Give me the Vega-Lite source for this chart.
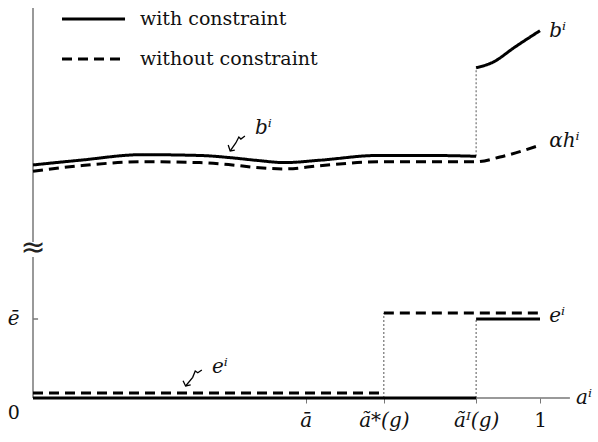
{
  "$schema": "https://vega.github.io/schema/vega-lite/v6.json",
  "width": 565,
  "height": 398,
  "padding": {"left": 33, "top": 0, "right": 0, "bottom": 44},
  "autosize": {"type": "none"},
  "config": {"view": {"stroke": null}, "font": "DejaVu Serif"},
  "datasets": {
    "curves": [
      {"a": 0, "v": 2.95, "series": "with", "seg": "b1"},
      {"a": 0.093, "v": 3.01, "series": "with", "seg": "b1"},
      {"a": 0.215, "v": 3.08, "series": "with", "seg": "b1"},
      {"a": 0.329, "v": 3.07, "series": "with", "seg": "b1"},
      {"a": 0.393, "v": 3.04, "series": "with", "seg": "b1"},
      {"a": 0.438, "v": 3.01, "series": "with", "seg": "b1"},
      {"a": 0.497, "v": 2.98, "series": "with", "seg": "b1"},
      {"a": 0.566, "v": 3.01, "series": "with", "seg": "b1"},
      {"a": 0.68, "v": 3.07, "series": "with", "seg": "b1"},
      {"a": 0.783, "v": 3.07, "series": "with", "seg": "b1"},
      {"a": 0.874, "v": 3.06, "series": "with", "seg": "b1"},
      {"a": 0.874, "v": 4.18, "series": "with", "seg": "b2"},
      {"a": 0.907, "v": 4.25, "series": "with", "seg": "b2"},
      {"a": 0.95, "v": 4.44, "series": "with", "seg": "b2"},
      {"a": 1.0, "v": 4.65, "series": "with", "seg": "b2"},
      {"a": 0, "v": 2.87, "series": "without", "seg": "h"},
      {"a": 0.093, "v": 2.94, "series": "without", "seg": "h"},
      {"a": 0.215, "v": 2.99, "series": "without", "seg": "h"},
      {"a": 0.329, "v": 2.98, "series": "without", "seg": "h"},
      {"a": 0.393, "v": 2.95, "series": "without", "seg": "h"},
      {"a": 0.438, "v": 2.92, "series": "without", "seg": "h"},
      {"a": 0.497, "v": 2.9, "series": "without", "seg": "h"},
      {"a": 0.566, "v": 2.94, "series": "without", "seg": "h"},
      {"a": 0.68, "v": 2.99, "series": "without", "seg": "h"},
      {"a": 0.783, "v": 2.99, "series": "without", "seg": "h"},
      {"a": 0.874, "v": 2.99, "series": "without", "seg": "h"},
      {"a": 0.921, "v": 3.05, "series": "without", "seg": "h"},
      {"a": 1.0, "v": 3.2, "series": "without", "seg": "h"},
      {"a": 0, "v": 0, "series": "with", "seg": "e1"},
      {"a": 0.874, "v": 0, "series": "with", "seg": "e1"},
      {"a": 0.874, "v": 1.0, "series": "with", "seg": "e2"},
      {"a": 1.0, "v": 1.0, "series": "with", "seg": "e2"},
      {"a": 0, "v": 0.063, "series": "without", "seg": "e3"},
      {"a": 0.692, "v": 0.063, "series": "without", "seg": "e3"},
      {"a": 0.692, "v": 1.076, "series": "without", "seg": "e4"},
      {"a": 1.0, "v": 1.076, "series": "without", "seg": "e4"}
    ],
    "legend": [
      {"a1": 0.0572, "a2": 0.1815, "v": 4.797, "series": "with", "label": "with constraint"},
      {"a1": 0.0572, "a2": 0.1815, "v": 4.291, "series": "without", "label": "without constraint"}
    ],
    "drops": [
      {"a": 0.874, "v1": 3.06, "v2": 4.18},
      {"a": 0.692, "v1": 0, "v2": 1.076},
      {"a": 0.874, "v1": 0, "v2": 1.0}
    ],
    "axislines": [
      {"a1": 0, "a2": 1.059, "v1": 0, "v2": 0},
      {"a1": 0, "a2": 0, "v1": 0, "v2": 1.785},
      {"a1": 0, "a2": 0, "v1": 1.975, "v2": 4.937},
      {"a1": 0, "a2": 0.01, "v1": 1.0, "v2": 1.0}
    ],
    "arrows": [
      {"id": "b", "i": 0, "a": 0.418, "v": 3.316},
      {"id": "b", "i": 1, "a": 0.41, "v": 3.278},
      {"id": "b", "i": 2, "a": 0.406, "v": 3.304},
      {"id": "b", "i": 3, "a": 0.4, "v": 3.228},
      {"id": "b", "i": 4, "a": 0.389, "v": 3.127},
      {"id": "bh", "i": 0, "a": 0.385, "v": 3.203},
      {"id": "bh", "i": 1, "a": 0.389, "v": 3.127},
      {"id": "bh", "i": 2, "a": 0.398, "v": 3.139},
      {"id": "e", "i": 0, "a": 0.333, "v": 0.354},
      {"id": "e", "i": 1, "a": 0.325, "v": 0.32},
      {"id": "e", "i": 2, "a": 0.32, "v": 0.342},
      {"id": "e", "i": 3, "a": 0.315, "v": 0.262},
      {"id": "e", "i": 4, "a": 0.301, "v": 0.152},
      {"id": "eh", "i": 0, "a": 0.296, "v": 0.219},
      {"id": "eh", "i": 1, "a": 0.301, "v": 0.152},
      {"id": "eh", "i": 2, "a": 0.311, "v": 0.165}
    ],
    "mathlabels": [
      {"a": 1.018, "v": 4.65, "text": "bⁱ"},
      {"a": 1.018, "v": 3.25, "text": "αhⁱ"},
      {"a": 1.018, "v": 1.04, "text": "eⁱ"},
      {"a": 0.438, "v": 3.42, "text": "bⁱ"},
      {"a": 0.353, "v": 0.39, "text": "eⁱ"},
      {"a": 1.071, "v": 0, "text": "aⁱ"}
    ],
    "ylabels": [
      {"a": -0.038, "v": 1.0, "text": "ē", "kind": "math"},
      {"a": -0.038, "v": -0.19, "text": "0", "kind": "num"}
    ]
  },
  "layer": [
    {
      "data": {"name": "axislines"},
      "mark": {"type": "rule", "color": "#777777", "strokeWidth": 1.5},
      "encoding": {
        "x": {"field": "a1", "type": "quantitative", "scale": {"domain": [0, 1.1144], "nice": false, "zero": false},
          "axis": {"domain": false, "grid": false, "title": null, "values": [0.538, 0.692, 0.874, 1],
            "tickSize": 5, "tickColor": "#777777", "tickWidth": 1, "labelPadding": 7, "labelFontSize": 20, "labelColor": "#111111",
            "labelFont": "DejaVu Serif",
            "labelExpr": "datum.value == 1 ? '1' : datum.value < 0.6 ? 'ā' : datum.value < 0.8 ? 'ã*(g)' : 'ãᴵ(g)'",
            "labelFontStyle": {"condition": {"test": "datum.value == 1", "value": "normal"}, "value": "italic"}}},
        "x2": {"field": "a2"},
        "y": {"field": "v1", "type": "quantitative", "scale": {"domain": [0, 5.038], "nice": false, "zero": false}, "axis": null},
        "y2": {"field": "v2"}
      }
    },
    {
      "data": {"name": "drops"},
      "mark": {"type": "rule", "color": "#555555", "strokeWidth": 1, "strokeDash": [2, 2]},
      "encoding": {
        "x": {"field": "a", "type": "quantitative"},
        "y": {"field": "v1", "type": "quantitative"},
        "y2": {"field": "v2"}
      }
    },
    {
      "data": {"name": "curves"},
      "mark": {"type": "line", "color": "black", "strokeWidth": 3, "interpolate": "monotone"},
      "encoding": {
        "x": {"field": "a", "type": "quantitative"},
        "y": {"field": "v", "type": "quantitative"},
        "detail": {"field": "seg"},
        "strokeDash": {"field": "series", "type": "nominal", "scale": {"domain": ["with", "without"], "range": [[1, 0], [10, 6]]}, "legend": null}
      }
    },
    {
      "data": {"name": "legend"},
      "mark": {"type": "rule", "color": "black", "strokeWidth": 3},
      "encoding": {
        "x": {"field": "a1", "type": "quantitative"},
        "x2": {"field": "a2"},
        "y": {"field": "v", "type": "quantitative"},
        "strokeDash": {"field": "series", "type": "nominal", "legend": null}
      }
    },
    {
      "data": {"name": "legend"},
      "mark": {"type": "text", "align": "left", "baseline": "middle", "dx": 15, "fontSize": 19, "font": "DejaVu Serif", "color": "#111111"},
      "encoding": {
        "x": {"field": "a2", "type": "quantitative"},
        "y": {"field": "v", "type": "quantitative"},
        "text": {"field": "label"}
      }
    },
    {
      "data": {"name": "arrows"},
      "mark": {"type": "line", "color": "black", "strokeWidth": 1.3},
      "encoding": {
        "x": {"field": "a", "type": "quantitative"},
        "y": {"field": "v", "type": "quantitative"},
        "detail": {"field": "id"},
        "order": {"field": "i"}
      }
    },
    {
      "data": {"name": "mathlabels"},
      "mark": {"type": "text", "align": "left", "baseline": "middle", "fontSize": 20, "fontStyle": "italic", "font": "DejaVu Serif", "color": "#111111"},
      "encoding": {
        "x": {"field": "a", "type": "quantitative"},
        "y": {"field": "v", "type": "quantitative"},
        "text": {"field": "text"}
      }
    },
    {
      "data": {"name": "ylabels"},
      "mark": {"type": "text", "align": "center", "baseline": "middle", "fontSize": 20, "fontStyle": "italic", "font": "DejaVu Serif", "color": "#111111"},
      "transform": [{"filter": "datum.kind == 'math'"}],
      "encoding": {
        "x": {"field": "a", "type": "quantitative"},
        "y": {"field": "v", "type": "quantitative"},
        "text": {"field": "text"}
      }
    },
    {
      "data": {"name": "ylabels"},
      "mark": {"type": "text", "align": "center", "baseline": "middle", "fontSize": 19, "font": "DejaVu Serif", "color": "#111111"},
      "transform": [{"filter": "datum.kind == 'num'"}],
      "encoding": {
        "x": {"field": "a", "type": "quantitative"},
        "y": {"field": "v", "type": "quantitative"},
        "text": {"field": "text"}
      }
    },
    {
      "data": {"values": [{"a": 0, "v": 1.9, "text": "≈"}]},
      "mark": {"type": "text", "align": "center", "baseline": "middle", "fontSize": 30, "font": "DejaVu Sans", "color": "#222222"},
      "encoding": {
        "x": {"field": "a", "type": "quantitative"},
        "y": {"field": "v", "type": "quantitative"},
        "text": {"field": "text"}
      }
    }
  ]
}
